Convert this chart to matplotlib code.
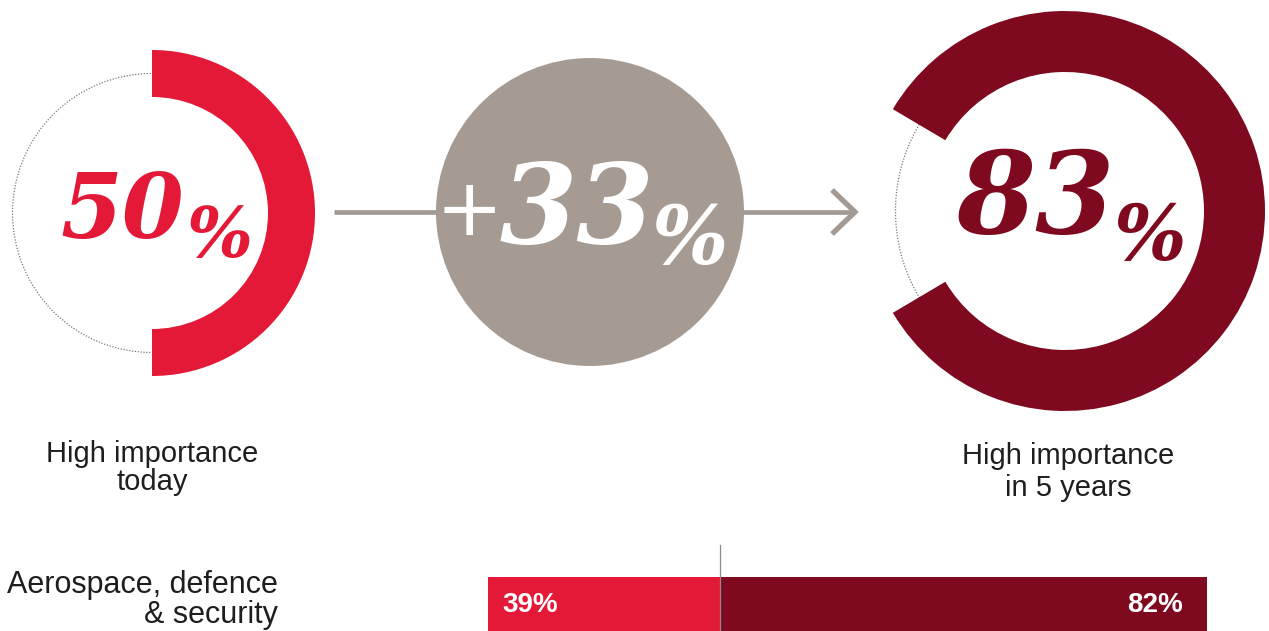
import matplotlib
matplotlib.use("Agg")
import matplotlib.pyplot as plt
from matplotlib.patches import Wedge, Circle

# Headline shares of respondents rating the topic "high importance"
share_today = 50
share_in_5_years = 83
share_change = share_in_5_years - share_today

# Sector breakdown
sectors = ["Aerospace, defence\n& security"]
sector_today = [39]
sector_in_5_years = [82]

label_today = "High importance\ntoday"
label_future = "High importance\nin 5 years"

RED = "#E31937"
DARK_RED = "#7F0A1F"
TAUPE = "#A69B93"
ARROW_GREY = "#A29A93"
TEXT = "#1E1E1E"

W, H = 1269, 631
fig = plt.figure(figsize=(W / 100, H / 100), dpi=100)
ax = fig.add_axes([0, 0, 1, 1])
ax.set_xlim(0, W)
ax.set_ylim(H, 0)
ax.set_aspect("equal")
ax.axis("off")

num_font = dict(family="DejaVu Serif", weight="bold", style="italic")
lab_font = dict(family="Liberation Sans")


def donut(cx, cy, r_out, r_in, value, color):
    half = value / 100 * 360 / 2
    ax.add_patch(Circle((cx, cy), (r_out + r_in) / 2, fill=False,
                        ec="#7A7A7A", lw=0.9, ls=(0, (1, 1.3)), zorder=1))
    ax.add_patch(Wedge((cx, cy), r_out, -half, half, width=r_out - r_in,
                       fc=color, ec="none", zorder=2))


# Connector arrow behind the change bubble
ax.plot([334, 853], [212, 212], color=ARROW_GREY, lw=3.4,
        solid_capstyle="butt", zorder=1)
ax.plot([832, 855, 832], [190, 212, 234], color=ARROW_GREY, lw=3.8,
        solid_joinstyle="miter", solid_capstyle="butt", zorder=1)

# Today
donut(152, 213, 163, 116, share_today, RED)
ax.text(60, 238, f"{share_today}", color=RED, fontsize=64, ha="left",
        va="baseline", **num_font, zorder=3)
ax.text(186, 257, "%", color=RED, fontsize=50, ha="left",
        va="baseline", **num_font, zorder=3)

# Change bubble
ax.add_patch(Circle((590, 212), 154, fc=TAUPE, ec="none", zorder=2))
ax.text(469, 213, "+", color="white", fontsize=58, ha="center",
        va="center", family="DejaVu Sans", zorder=3)
ax.text(500, 243, f"{share_change}", color="white", fontsize=80, ha="left",
        va="baseline", **num_font, zorder=3)
ax.text(652, 264, "%", color="white", fontsize=58, ha="left",
        va="baseline", **num_font, zorder=3)

# In five years
donut(1065, 211, 200, 139, share_in_5_years, DARK_RED)
ax.text(956, 233, f"{share_in_5_years}", color=DARK_RED, fontsize=82,
        ha="left", va="baseline", **num_font, zorder=3)
ax.text(1114, 260, "%", color=DARK_RED, fontsize=55, ha="left",
        va="baseline", **num_font, zorder=3)

ax.text(152, 468, label_today, color=TEXT, fontsize=21, ha="center",
        va="center", linespacing=1.0, **lab_font)
ax.text(1068, 472, label_future, color=TEXT, fontsize=21, ha="center",
        va="center", linespacing=1.2, **lab_font)

# Sector bars: today extends left of the zero line, future to the right
px_per_pct = (1207 - 720) / sector_in_5_years[0]
left_px = 720 - 50 * px_per_pct
right_px = 720 + 90 * px_per_pct
bax = fig.add_axes([left_px / W, 0, (right_px - left_px) / W, 91 / H])
bax.set_xlim(-50, 90)
bax.set_ylim(-0.465, 1.16)
bax.axis("off")
ypos = list(range(len(sectors)))
bax.barh(ypos, [-v for v in sector_today], height=1.0, color=RED)
bax.barh(ypos, sector_in_5_years, height=1.0, color=DARK_RED)
bax.axvline(0, ymin=0, ymax=0.945, color="#8C8C8C", lw=0.9)
for y, t, f in zip(ypos, sector_today, sector_in_5_years):
    bax.text(-t + 2.3, y, f"{t}%", color="white", fontsize=20,
             weight="bold", ha="left", va="center", **lab_font)
    bax.text(f - 4.0, y, f"{f}%", color="white", fontsize=20,
             weight="bold", ha="right", va="center", **lab_font)

for i, s in enumerate(sectors):
    fig.text(278 / W, 1 - (600 + i * 60) / H, s, color=TEXT, fontsize=22,
             ha="right", va="center", multialignment="right",
             linespacing=1.0, **lab_font)

fig.savefig("out.png", dpi=100, facecolor="white")
